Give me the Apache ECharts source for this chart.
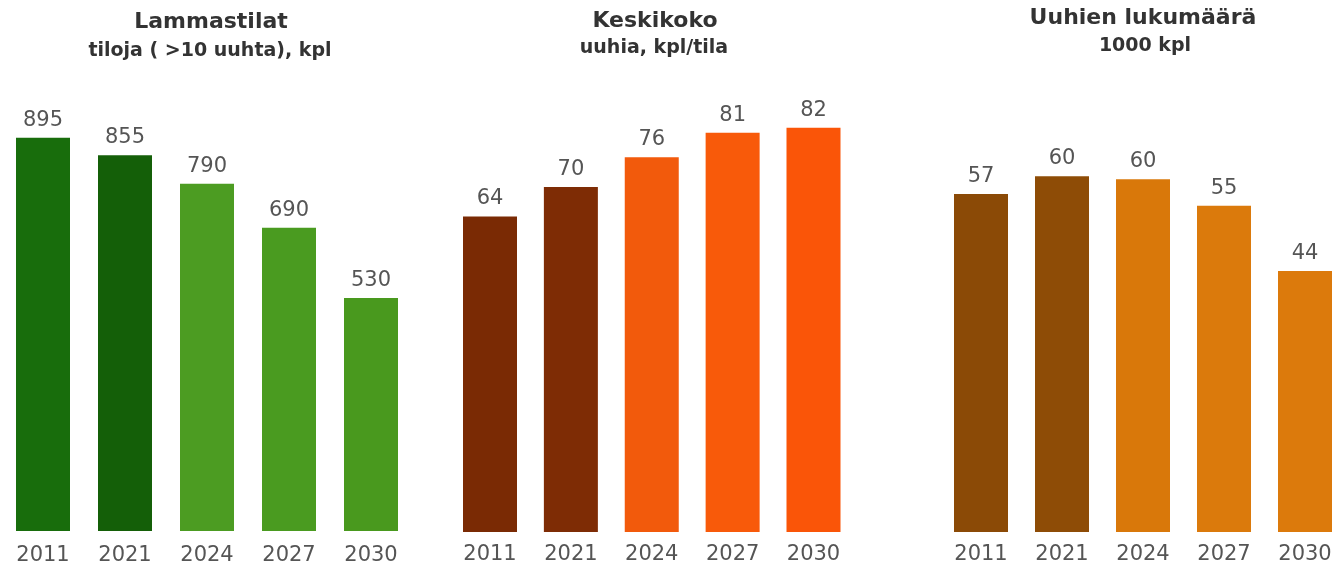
<!DOCTYPE html>
<html lang="fi">
<head>
  <meta charset="UTF-8" />
  <title>Lammastilat, keskikoko ja uuhien lukumäärä</title>
  <style>
    html, body { margin: 0; background: #fff; }
    #chart { width: 1336px; height: 566px; }
  </style>
  <script src="https://cdn.jsdelivr.net/npm/echarts@6/dist/echarts.min.js"></script>
</head>
<body>
  <div id="chart"></div>
  <script>
    // data
    var years = ['2011', '2021', '2024', '2027', '2030'];
    var farms = [895, 855, 790, 690, 530];          // tiloja (>10 uuhta), kpl
    var avgSize = [64, 70, 76, 81, 82];             // uuhia, kpl/tila
    var ewes = [57, 60, 59.5, 55, 44];              // 1000 kpl

    var farmColors = ['#186d0c', '#145f08', '#4c9c22', '#4a9b20', '#49991e'];
    var sizeColors = ['#7a2a04', '#7e2c05', '#f25a0c', '#f85a0a', '#fa5508'];
    var eweColors = ['#8b4a06', '#8e4c06', '#d9780a', '#db7a0c', '#dc7a0c'];

    var font = 'DejaVu Sans, Verdana, sans-serif';

    function panel(i, values, colors) {
      return {
        type: 'bar',
        xAxisIndex: i,
        yAxisIndex: i,
        barWidth: 54,
        clip: false,
        data: values.map(function (v, k) {
          return { value: v, itemStyle: { color: colors[k] } };
        }),
        label: {
          show: true,
          position: 'top',
          distance: 7,
          color: '#555',
          fontFamily: font,
          fontSize: 21,
          formatter: function (p) { return Math.round(p.value); }
        },
        silent: true
      };
    }

    // boundaryGap off: each year sits on a tick, grid spans first to last bar centre
    function xAxis(i, margin) {
      return {
        type: 'category',
        gridIndex: i,
        data: years,
        boundaryGap: false,
        axisLine: { show: false },
        axisTick: { show: false },
        splitLine: { show: false },
        axisLabel: { color: '#555', fontFamily: font, fontSize: 21, margin: margin }
      };
    }

    function yAxis(i, max) {
      return { type: 'value', gridIndex: i, min: 0, max: max, show: false, splitLine: { show: false } };
    }

    function heading(x, y, text, size) {
      return {
        text: text,
        left: x,
        top: y,
        textAlign: 'center',
        textStyle: { color: '#333', fontFamily: font, fontWeight: 'bold', fontSize: size }
      };
    }

    var chart = echarts.init(document.getElementById('chart'));
    chart.setOption({
      backgroundColor: '#fff',
      animation: false,
      title: [
        heading(206, 6, 'Lammastilat', 22),
        heading(205, 37, 'tiloja ( >10 uuhta), kpl', 19),
        heading(650, 5, 'Keskikoko', 22),
        heading(649, 34, 'uuhia, kpl/tila', 19),
        heading(1138, 2, 'Uuhien lukumäärä', 22),
        heading(1140, 32, '1000 kpl', 19)
      ],
      grid: [
        { left: 43, width: 328, top: 91.5, height: 442.5 },
        { left: 490, width: 323.5, top: 88.3, height: 443.7 },
        { left: 981, width: 324, top: 116.9, height: 415.1 }
      ],
      xAxis: [xAxis(0, 14), xAxis(1, 12), xAxis(2, 12)],
      yAxis: [yAxis(0, 1000), yAxis(1, 90), yAxis(2, 70)],
      series: [
        panel(0, farms, farmColors),
        panel(1, avgSize, sizeColors),
        panel(2, ewes, eweColors)
      ]
    });
  </script>
</body>
</html>
